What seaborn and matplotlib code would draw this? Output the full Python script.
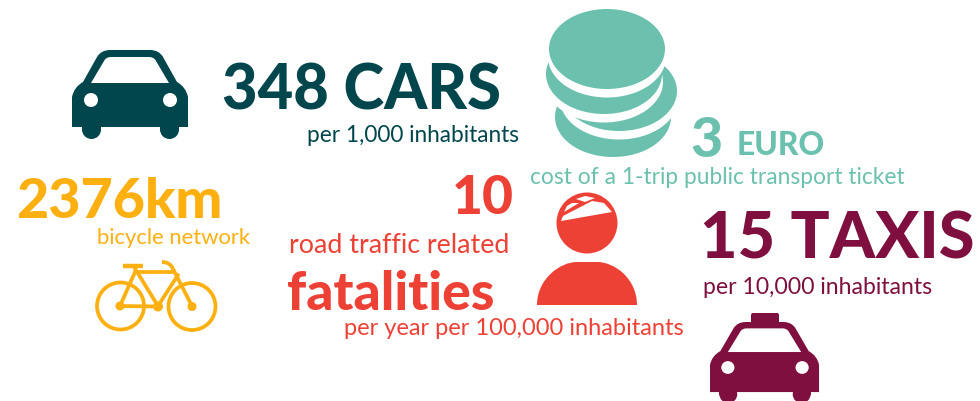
import matplotlib
matplotlib.use('Agg')
import matplotlib.pyplot as plt
import seaborn as sns
from matplotlib.path import Path
from matplotlib.patches import PathPatch, Circle, Ellipse, Polygon, Rectangle, FancyBboxPatch

# Values
cars_value = 348
euro_value = 3
bike_km = 2376
fatal_value = 10
taxi_value = 15

# Labels
cars_unit = "CARS"
euro_unit = "EURO"
bike_unit = "km"
taxi_unit = "TAXIS"
cars_caption = "per 1,000 inhabitants"
euro_caption = "cost of a 1-trip public transport ticket"
bike_caption = "bicycle network"
fatal_caption_top = "road traffic related"
fatal_word = "fatalities"
fatal_caption_bottom = "per year per 100,000 inhabitants"
taxi_caption = "per 10,000 inhabitants"

# Colours
DARK = '#00464c'
TEAL = '#6bc1ae'
AMBER = '#fdb00f'
RED = '#ee4136'
MAROON = '#7f0f3e'

sns.set_theme(style="white")
plt.rcParams['font.family'] = ['Lato', 'DejaVu Sans']

fig, ax = plt.subplots(figsize=(9.8, 4.02), dpi=100)
fig.subplots_adjust(0, 0, 1, 1)
ax.set_xlim(0, 980)
ax.set_ylim(402, 0)
ax.axis('off')
sns.despine(ax=ax, left=True, bottom=True)


def put(label, x0, x1, base, color, weight='normal'):
    """Text with its left edge at x0, sized so it ends at x1"""
    t = ax.text(x0, base, label, color=color, fontweight=weight, fontsize=30, va='baseline', ha='left')
    width = t.get_window_extent(fig.canvas.get_renderer()).width
    t.set_fontsize(30 * (x1 - x0) / width)
    return t


def draw_car(left, top, sx, sy, color):
    """Front view of a car, drawn from the shape of the 116px wide icon"""
    def px(x, y):
        return (left + (x - 72) * sx, top + (y - 51) * sy)

    body = [(72, 128), (72, 98), (74, 88), (83, 83), (97, 58), (101, 51), (110, 51), (150, 51),
            (159, 51), (163, 58), (177, 83), (186, 88), (188, 98), (188, 128), (72, 128)]
    codes = [Path.MOVETO, Path.LINETO, Path.CURVE3, Path.CURVE3, Path.LINETO, Path.CURVE3, Path.CURVE3,
             Path.LINETO, Path.CURVE3, Path.CURVE3, Path.LINETO, Path.CURVE3, Path.CURVE3, Path.LINETO,
             Path.CLOSEPOLY]
    ax.add_patch(PathPatch(Path([px(*p) for p in body], codes), fc=color, ec='none'))

    glass = [(91, 84), (104, 62), (106, 58), (111, 58), (149, 58), (154, 58), (156, 62), (169, 84), (91, 84)]
    codes = [Path.MOVETO, Path.LINETO, Path.CURVE3, Path.CURVE3, Path.LINETO, Path.CURVE3, Path.CURVE3,
             Path.LINETO, Path.CLOSEPOLY]
    ax.add_patch(PathPatch(Path([px(*p) for p in glass], codes), fc='white', ec='none'))

    for wx in (91.5, 169.5):
        x, y = px(wx, 130.5)
        ax.add_patch(Ellipse((x, y), 19 * sx, 19 * sy, fc=color, ec='none'))
        x0, y0 = px(wx - 9.5, 126)
        ax.add_patch(Rectangle((x0, y0), 19 * sx, 5 * sy, fc=color, ec='none'))
    for lx in (91, 170):
        x, y = px(lx, 101)
        ax.add_patch(Ellipse((x, y), 14 * sx, 14 * sy, fc='white', ec='none'))


def draw_coins():
    coins = [(613, 118), (619, 92), (604, 75), (607, 50)]
    for i, (cx, cy) in enumerate(coins):
        if i > 0:
            ax.add_patch(Ellipse((cx, cy + 8), 118, 81, fc='white', ec='none'))
        ax.add_patch(Ellipse((cx, cy), 116, 80, fc=TEAL, ec='none'))


def draw_bike():
    ax.add_patch(Circle((120.5, 307), 23.5, fc='none', ec=AMBER, lw=2.7))
    ax.add_patch(Circle((192, 307.5), 23.5, fc='none', ec=AMBER, lw=2.7))
    tubes = [[(120, 307), (158, 307.5)], [(120, 307), (135, 273)], [(134, 268), (158, 307)],
             [(135, 273), (173, 273)], [(158, 307), (178, 276)]]
    for tube in tubes:
        ax.plot(*zip(*tube), color=AMBER, lw=2.7, solid_capstyle='round')
    ax.plot([123, 143], [266.5, 266.5], color=AMBER, lw=3.2, solid_capstyle='butt')
    fork = Path([(162, 263), (169, 263), (172, 268), (192, 307)],
                [Path.MOVETO, Path.CURVE3, Path.CURVE3, Path.LINETO])
    ax.add_patch(PathPatch(fork, fc='none', ec=AMBER, lw=2.7))
    ax.add_patch(Circle((120, 307), 4.5, fc=AMBER, ec='none'))
    ax.add_patch(Circle((158, 307.5), 5, fc=AMBER, ec='none'))
    ax.add_patch(Circle((192, 307.5), 4.5, fc=AMBER, ec='none'))


def draw_person():
    ax.add_patch(Circle((587, 224), 30.5, fc=RED, ec='none'))
    strips = [[(561, 222), (612, 213), (604, 204), (592, 202), (563, 217)],
              [(564, 213), (579, 204), (572, 204), (567, 207)],
              [(576, 200), (585, 203), (595, 199), (585, 197)]]
    for strip in strips:
        ax.add_patch(Polygon(strip, fc='white', ec='none'))
    shoulders = Path([(537, 306), (537, 280), (560, 263), (577, 263), (597, 263),
                      (615, 263), (637, 280), (637, 306), (537, 306)],
                     [Path.MOVETO, Path.CURVE4, Path.CURVE4, Path.CURVE4, Path.LINETO,
                      Path.CURVE4, Path.CURVE4, Path.CURVE4, Path.CLOSEPOLY])
    ax.add_patch(PathPatch(shoulders, fc=RED, ec='none'))


draw_car(72, 51, 1.0, 1.0, DARK)
draw_coins()
draw_bike()
draw_person()
draw_car(710, 323, 0.94, 0.91, MAROON)
# roof sign of the taxi
ax.add_patch(FancyBboxPatch((753, 316), 24, 9, boxstyle="round,pad=2", fc=MAROON, ec='none'))

put(f"{cars_value} {cars_unit}", 222, 501, 110, DARK, 'black')
put(cars_caption, 307, 519, 142, DARK)
put(f"{euro_value}", 690, 722, 157, TEAL, 'black')
put(euro_unit, 737, 825, 155, TEAL, 'black')
put(euro_caption, 530, 904, 184, TEAL)
put(f"{bike_km}{bike_unit}", 16, 222, 218, AMBER, 'black')
put(bike_caption, 97, 250, 244, AMBER)
put(f"{fatal_value}", 452, 514, 214, RED, 'black')
put(fatal_caption_top, 289, 508, 253, RED)
put(fatal_word, 287, 494, 310, RED, 'black')
put(fatal_caption_bottom, 344, 683, 335, RED)
put(f"{taxi_value} {taxi_unit}", 700, 974, 259, MAROON, 'black')
put(taxi_caption, 703, 931, 294, MAROON)

plt.savefig('out.png', dpi=100)
plt.close()
